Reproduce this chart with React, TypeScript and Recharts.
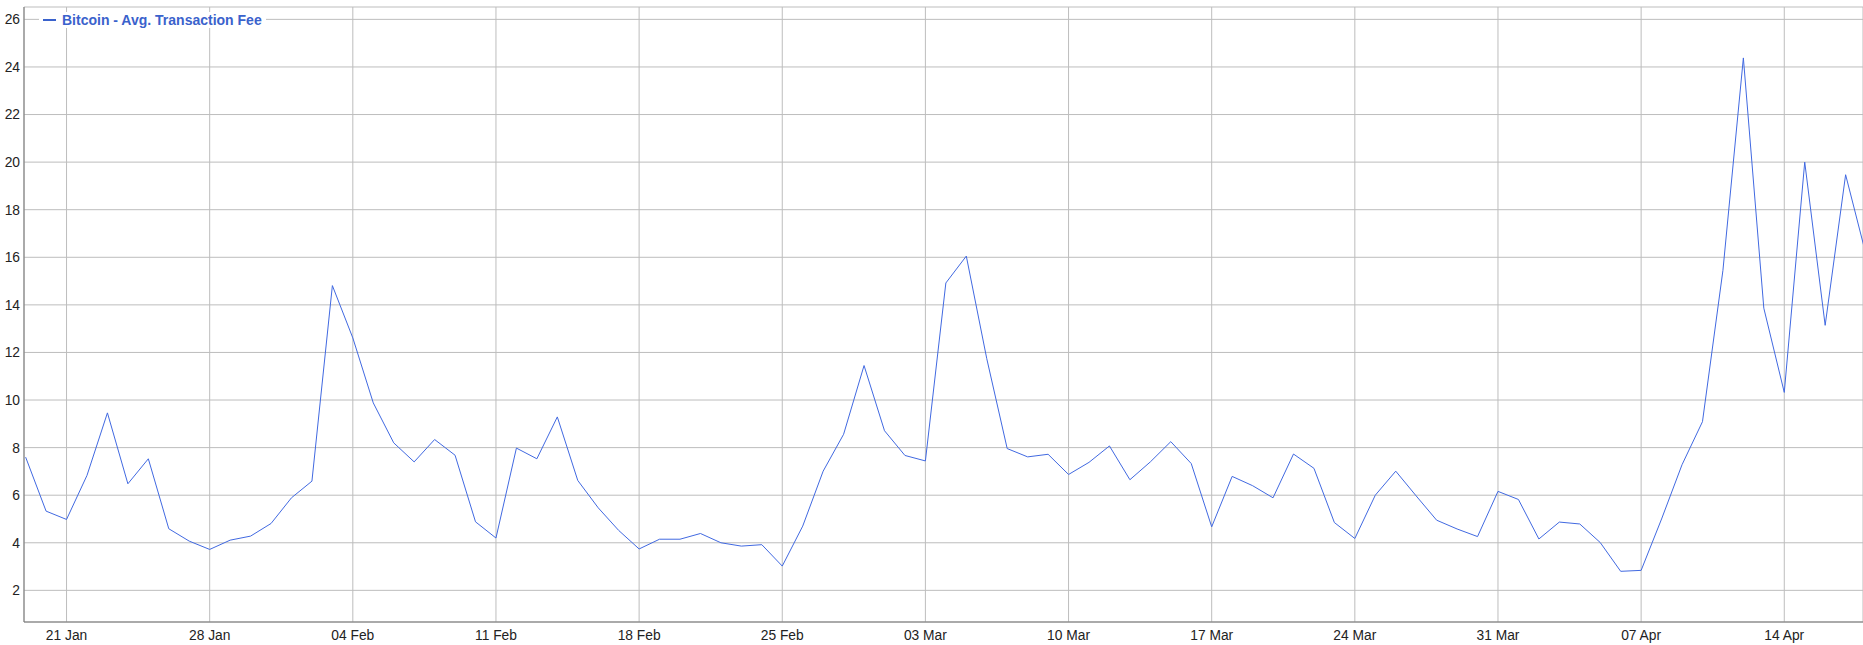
import { CartesianGrid, Line, LineChart, XAxis, YAxis } from 'recharts'

// Daily average fee (USD), one value per day starting 19 Jan
const FEES = [
  7.6, 5.33, 4.98, 6.83, 9.46, 6.48, 7.53, 4.59, 4.07, 3.72,
  4.11, 4.28, 4.81, 5.89, 6.59, 14.81, 12.61, 9.88, 8.2, 7.4,
  8.34, 7.68, 4.88, 4.2, 7.98, 7.53, 9.29, 6.62, 5.47, 4.52,
  3.74, 4.15, 4.15, 4.39, 4.0, 3.86, 3.92, 3.02, 4.7, 7.01,
  8.56, 11.45, 8.71, 7.67, 7.44, 14.92, 16.05, 11.74, 7.96, 7.61,
  7.72, 6.87, 7.38, 8.07, 6.65, 7.4, 8.25, 7.33, 4.67, 6.79,
  6.4, 5.89, 7.73, 7.13, 4.85, 4.18, 6.0, 7.01, 5.97, 4.95,
  4.58, 4.26, 6.16, 5.82, 4.16, 4.87, 4.79, 4.01, 2.8, 2.84,
  5.0, 7.28, 9.09, 15.45, 24.38, 13.86, 10.32, 20.0, 13.14, 19.47,
  16.1,
]

// x ticks: day index (0 = 19 Jan) and label
const TICK_DAYS = [2, 9, 16, 23, 30, 37, 44, 51, 58, 65, 72, 79, 86]
const TICK_LABELS = [
  '21 Jan', '28 Jan', '04 Feb', '11 Feb', '18 Feb', '25 Feb', '03 Mar',
  '10 Mar', '17 Mar', '24 Mar', '31 Mar', '07 Apr', '14 Apr',
]
const Y_TICKS = [2, 4, 6, 8, 10, 12, 14, 16, 18, 20, 22, 24, 26]

const SERIES_NAME = 'Bitcoin - Avg. Transaction Fee'
const LINE_COLOR = '#4169e1'
const LEGEND_COLOR = '#3a62cc'
const FONT = 'Arial, "Liberation Sans", sans-serif'

const data = FEES.map((fee, i) => ({ day: i, fee }))

export default function App() {
  return (
    <div style={{ position: 'absolute', left: 0, top: 0, width: 1863, height: 645, background: '#fff' }}>
      <LineChart
        width={1863}
        height={645}
        data={data}
        margin={{ top: 7, right: 0, bottom: 0, left: 0 }}
      >
        <CartesianGrid stroke="#bdbdbd" />
        <XAxis
          type="number"
          dataKey="day"
          domain={[-0.08, 89.85]}
          allowDataOverflow
          ticks={TICK_DAYS}
          interval={0}
          tickFormatter={(d: number) => TICK_LABELS[TICK_DAYS.indexOf(d)] ?? ''}
          height={23}
          tickSize={0}
          tickMargin={8}
          tickLine={false}
          axisLine={{ stroke: '#777' }}
          tick={{ fill: '#222', fontSize: 13.8, fontFamily: FONT }}
        />
        <YAxis
          type="number"
          domain={[0.67, 26.52]}
          allowDataOverflow
          ticks={Y_TICKS}
          interval={0}
          width={24}
          tickSize={0}
          tickMargin={4}
          tickLine={false}
          axisLine={{ stroke: '#777' }}
          tick={{ fill: '#222', fontSize: 13.8, fontFamily: FONT }}
        />
        <Line
          type="linear"
          dataKey="fee"
          name={SERIES_NAME}
          stroke={LINE_COLOR}
          strokeWidth={1}
          dot={false}
          activeDot={false}
          isAnimationActive={false}
        />
      </LineChart>
      <div
        style={{
          position: 'absolute',
          left: 39,
          top: 12,
          height: 16,
          padding: '0 4px 0 4px',
          background: '#fff',
          display: 'flex',
          alignItems: 'center',
          gap: 6,
          fontFamily: FONT,
          fontWeight: 'bold',
          fontSize: 14,
          color: LEGEND_COLOR,
          whiteSpace: 'nowrap',
        }}
      >
        <span style={{ display: 'inline-block', width: 13, height: 2, background: LEGEND_COLOR }} />
        {SERIES_NAME}
      </div>
    </div>
  )
}
